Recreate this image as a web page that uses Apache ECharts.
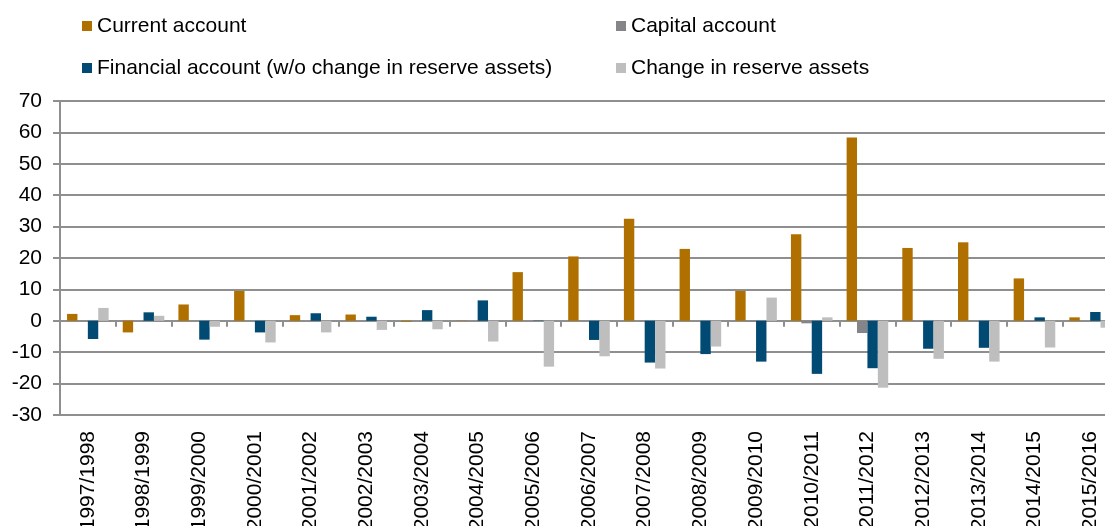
<!DOCTYPE html>
<html>
<head>
<meta charset="utf-8">
<script src="https://cdn.jsdelivr.net/npm/echarts@6/dist/echarts.min.js"></script>
<style>
  html, body { margin: 0; padding: 0; background: #fff; }
  #chart { width: 1105px; height: 526px; }
</style>
</head>
<body>
<div id="chart"></div>
<script>
const years = ["1997/1998", "1998/1999", "1999/2000", "2000/2001", "2001/2002", "2002/2003", "2003/2004",
  "2004/2005", "2005/2006", "2006/2007", "2007/2008", "2008/2009", "2009/2010", "2010/2011",
  "2011/2012", "2012/2013", "2013/2014", "2014/2015", "2015/2016"]
const currentAccount = [2.2, -3.7, 5.2, 9.5, 1.8, 2.0, -0.3, 0.1, 15.5, 20.5, 32.5, 22.9, 9.5, 27.6, 58.4, 23.2, 25.0, 13.5, 1.1]
const capitalAccount = [-0.1, 0, 0, 0, 0, 0, 0, 0, 0, 0, 0, 0, -0.3, -0.8, -3.9, -0.3, -0.2, -0.3, 0]
const financialAccount = [-5.8, 2.7, -6.0, -3.7, 2.4, 1.3, 3.4, 6.5, 0.1, -6.1, -13.3, -10.6, -13.0, -16.9, -15.1, -8.9, -8.6, 1.1, 2.8]
const reserveChange = [4.1, 1.6, -1.9, -6.9, -3.7, -2.9, -2.7, -6.6, -14.6, -11.3, -15.2, -8.2, 7.4, 1.1, -21.3, -12.1, -13.0, -8.5, -2.2]

const names = ["Current account", "Capital account", "Financial account (w/o change in reserve assets)", "Change in reserve assets"]
const colors = ["#b07000", "#858589", "#004a73", "#bebebe"]
const font = "Liberation Sans, Arial, sans-serif"
const grey = "#8f8f8f"

const chart = echarts.init(document.getElementById("chart"))

function legendAt(name, left, top) {
  return {
    data: [name],
    left: left,
    top: top,
    padding: 0,
    icon: "rect",
    itemWidth: 10,
    itemHeight: 10,
    selectedMode: false,
    textStyle: { fontFamily: font, fontSize: 21, color: "#000", lineHeight: 24 }
  }
}

function barSeries(i, values) {
  return {
    name: names[i],
    type: "bar",
    xAxisIndex: 0,
    data: values,
    barWidth: 10.4,
    barGap: "0%",
    itemStyle: { color: colors[i] }
  }
}

const option = {
  animation: false,
  color: colors,
  legend: [
    legendAt(names[0], 82, 14),
    legendAt(names[2], 82, 56),
    legendAt(names[1], 616, 14),
    legendAt(names[3], 616, 56)
  ],
  // plot runs a little past the right edge of the picture, as in the original
  grid: { left: 60, width: 1058, top: 101, height: 314, containLabel: false, outerBoundsMode: "none" },
  xAxis: [
    {
      type: "category",
      data: years,
      position: "bottom",
      axisLine: { show: false, onZero: false },
      axisTick: { show: false },
      axisLabel: { interval: 0, rotate: 90, margin: 16, fontFamily: font, fontSize: 21, color: "#000" }
    },
    {
      type: "category",
      data: years,
      position: "bottom",
      axisLine: { show: true, onZero: true, lineStyle: { color: grey, width: 2 } },
      axisTick: { show: true, interval: 0, length: 6, lineStyle: { color: grey, width: 2 } },
      axisLabel: { show: false, interval: 0 }
    }
  ],
  yAxis: {
    type: "value",
    min: -30,
    max: 70,
    interval: 10,
    axisLine: { show: true, lineStyle: { color: grey, width: 2 } },
    axisTick: { show: true, length: 7, lineStyle: { color: grey, width: 2 } },
    axisLabel: { margin: 18, fontFamily: font, fontSize: 21, color: "#000" },
    splitLine: { lineStyle: { color: grey, width: 2 } }
  },
  series: [
    barSeries(0, currentAccount),
    barSeries(1, capitalAccount),
    barSeries(2, financialAccount),
    barSeries(3, reserveChange)
  ]
}

chart.setOption(option)
</script>
</body>
</html>
